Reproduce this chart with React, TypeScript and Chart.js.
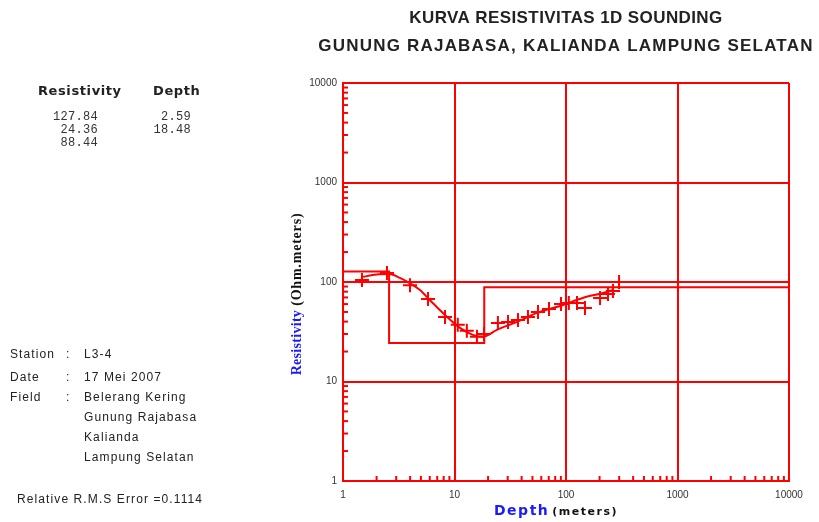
import React, { useEffect, useRef } from "react";
import { Chart, registerables } from "chart.js";

Chart.register(...registerables);

// ---- Data ----
const obsDepth = [1.48, 2.48, 3.99, 5.79, 8.22, 10.7, 12.9, 15.9, 18.4, 24.5, 30.2, 37.1, 45.6, 56.1, 70.4, 90.2, 106, 125.5, 148, 202, 238, 264, 299];
const obsRes = [105, 123, 93, 67.5, 44.6, 37.1, 32.3, 28.1, 30.1, 38.8, 39.7, 41.6, 44.6, 50.0, 53.6, 60.2, 61.6, 61.6, 54.8, 69.1, 75.8, 81.2, 100];

const calcDepth = [1.48, 2.0, 2.6, 3.24, 3.99, 4.9, 6.0, 8.2, 11.2, 14.6, 18, 24, 36.3, 55, 93.9, 141, 214, 264];
const calcRes = [112, 119, 120, 110, 97, 83, 66, 46.7, 34.6, 29.4, 28.1, 33, 39.7, 48.9, 58.8, 69.1, 77.6, 83.1];

const modelDepth = [1, 2.59, 18.48, 10000];
const modelRes = [127.84, 24.36, 88.44, 88.44];

const layerRes = ["127.84", "24.36", "88.44"];
const layerDepth = ["2.59", "18.48"];

const titleLines = ["KURVA RESISTIVITAS 1D SOUNDING", "GUNUNG RAJABASA, KALIANDA LAMPUNG SELATAN"];
const infoLabels = ["Station", "Date", "Field", "", "", ""];
const infoValues = ["L3-4", "17 Mei 2007", "Belerang Kering", "Gunung Rajabasa", "Kalianda", "Lampung Selatan"];
const rmsText = "Relative R.M.S Error =0.1114";

const axisMin = 1;
const axisMax = 10000;

const RED = "rgb(255,0,0)";

const isDecade = (v: number) => Math.abs(Math.log10(v) - Math.round(Math.log10(v))) < 1e-9;

const decorPlugin = {
  id: "decor",
  beforeDatasetsDraw(chart: any) {
    const ctx = chart.ctx;
    const xs = chart.scales.x;
    const ys = chart.scales.y;
    const area = chart.chartArea;
    ctx.save();
    ctx.strokeStyle = RED;
    ctx.lineWidth = 2;
    for (let d = 1; d < axisMax; d *= 10) {
      for (let k = 2; k <= 9; k++) {
        const v = d * k;
        const px = xs.getPixelForValue(v);
        ctx.beginPath();
        ctx.moveTo(px, area.bottom);
        ctx.lineTo(px, area.bottom - 5);
        ctx.stroke();
        const py = ys.getPixelForValue(v);
        ctx.beginPath();
        ctx.moveTo(area.left, py);
        ctx.lineTo(area.left + 5, py);
        ctx.stroke();
      }
    }
    ctx.restore();
  },
  afterDraw(chart: any) {
    const ctx = chart.ctx;
    const area = chart.chartArea;
    const cx = (area.left + area.right) / 2;
    const cy = (area.top + area.bottom) / 2;
    ctx.save();
    ctx.textBaseline = "middle";

    // Title
    ctx.fillStyle = "#222";
    ctx.font = "bold 17px 'Liberation Sans', Arial, sans-serif";
    ctx.textAlign = "center";
    (ctx as any).letterSpacing = "0.4px";
    ctx.fillText(titleLines[0], cx, 18);
    (ctx as any).letterSpacing = "1.2px";
    ctx.fillText(titleLines[1], cx, 46);

    // Layer table
    ctx.font = "bold 13px 'DejaVu Sans', sans-serif";
    (ctx as any).letterSpacing = "0.6px";
    ctx.textAlign = "left";
    ctx.fillText("Resistivity", 38, 92);
    ctx.fillText("Depth", 153, 92);
    ctx.font = "12px 'Liberation Mono', monospace";
    (ctx as any).letterSpacing = "0.3px";
    ctx.fillStyle = "#333";
    ctx.textAlign = "right";
    layerRes.forEach((t, i) => ctx.fillText(t, 98, 117 + i * 13));
    layerDepth.forEach((t, i) => ctx.fillText(t, 191, 117 + i * 13));

    // Station info
    ctx.fillStyle = "#222";
    ctx.font = "12px 'Liberation Sans', Arial, sans-serif";
    (ctx as any).letterSpacing = "1.1px";
    ctx.textAlign = "left";
    const rows = [355, 378, 398, 418, 438, 458];
    infoValues.forEach((v, i) => {
      if (infoLabels[i]) {
        ctx.fillText(infoLabels[i], 10, rows[i]);
        ctx.fillText(":", 66, rows[i]);
      }
      ctx.fillText(v, 84, rows[i]);
    });
    ctx.fillText(rmsText, 17, 500);

    // X axis title
    (ctx as any).letterSpacing = "1.5px";
    const xt1 = "Depth";
    const xt2 = "(meters)";
    ctx.font = "bold 14px 'DejaVu Sans', sans-serif";
    const w1 = ctx.measureText(xt1).width;
    const startX = cx - 72;
    ctx.fillStyle = "#1a1aff";
    ctx.textAlign = "left";
    ctx.fillText(xt1, startX, 511);
    ctx.font = "bold 11px 'DejaVu Sans', sans-serif";
    ctx.fillStyle = "#111";
    ctx.fillText(xt2, startX + w1 + 3, 512);

    // Y axis title (rotated)
    ctx.translate(297, cy + 12);
    ctx.rotate(-Math.PI / 2);
    const yt1 = "Resistivity";
    const yt2 = "(Ohm.meters)";
    ctx.font = "bold 14px 'Liberation Serif', 'Times New Roman', serif";
    (ctx as any).letterSpacing = "0.3px";
    const yw1 = ctx.measureText(yt1).width;
    ctx.font = "bold 14px 'Liberation Serif', 'Times New Roman', serif";
    (ctx as any).letterSpacing = "0.8px";
    const yw2 = ctx.measureText(yt2).width;
    const sy = -(yw1 + yw2 + 4) / 2;
    (ctx as any).letterSpacing = "0.3px";
    ctx.fillStyle = "#1a1aff";
    ctx.fillText(yt1, sy, 0);
    (ctx as any).letterSpacing = "0.8px";
    ctx.fillStyle = "#111";
    ctx.fillText(yt2, sy + yw1 + 4, 0);
    ctx.restore();
  },
};

export default function App() {
  const ref = useRef<HTMLCanvasElement | null>(null);

  useEffect(() => {
    document.body.style.margin = "0";
    if (!ref.current) return;
    const gridColor = (c: any) => (c.tick && isDecade(c.tick.value) ? RED : "rgba(0,0,0,0)");
    const tickCb = (v: any) => (isDecade(Number(v)) ? String(Math.round(Number(v))) : "");
    const chart = new Chart(ref.current, {
      type: "scatter",
      data: {
        datasets: [
          {
            label: "model",
            data: modelDepth.map((d, i) => ({ x: d, y: modelRes[i] })),
            showLine: true,
            stepped: "before",
            borderColor: RED,
            borderWidth: 2,
            pointRadius: 0,
            fill: false,
          },
          {
            label: "calculated",
            data: calcDepth.map((d, i) => ({ x: d, y: calcRes[i] })),
            showLine: true,
            tension: 0.4,
            cubicInterpolationMode: "monotone",
            borderColor: RED,
            borderWidth: 2,
            pointRadius: 0,
            fill: false,
          },
          {
            label: "observed",
            data: obsDepth.map((d, i) => ({ x: d, y: obsRes[i] })),
            showLine: false,
            pointStyle: "cross",
            pointRadius: 7,
            borderColor: RED,
            backgroundColor: RED,
            pointBorderWidth: 2,
          },
        ],
      } as any,
      options: {
        animation: false,
        responsive: false,
        maintainAspectRatio: false,
        layout: { padding: { left: 293, right: 30, top: 83, bottom: 0 } },
        plugins: { legend: { display: false }, tooltip: { enabled: false }, title: { display: false } },
        scales: {
          x: {
            type: "logarithmic",
            min: axisMin,
            max: axisMax,
            afterFit: (s: any) => {
              s.height = 41;
            },
            grid: { color: gridColor, lineWidth: 2, drawTicks: false },
            border: { display: true, color: RED, width: 2 },
            ticks: {
              autoSkip: false,
              maxRotation: 0,
              padding: 8,
              color: "#333",
              font: { family: "'Liberation Sans', Arial, sans-serif", size: 10 },
              callback: tickCb,
            },
          },
          y: {
            type: "logarithmic",
            min: axisMin,
            max: axisMax,
            afterFit: (s: any) => {
              s.width = 50;
            },
            grid: { color: gridColor, lineWidth: 2, drawTicks: false },
            border: { display: true, color: RED, width: 2 },
            ticks: {
              autoSkip: false,
              padding: 6,
              color: "#333",
              font: { family: "'Liberation Sans', Arial, sans-serif", size: 10 },
              callback: tickCb,
            },
          },
        },
      } as any,
      plugins: [decorPlugin],
    });
    return () => chart.destroy();
  }, []);

  return (
    <div style={{ position: "fixed", left: 0, top: 0, width: 819, height: 522, background: "#fff" }}>
      <canvas ref={ref} width={819} height={522} style={{ display: "block", width: 819, height: 522 }} />
    </div>
  );
}
